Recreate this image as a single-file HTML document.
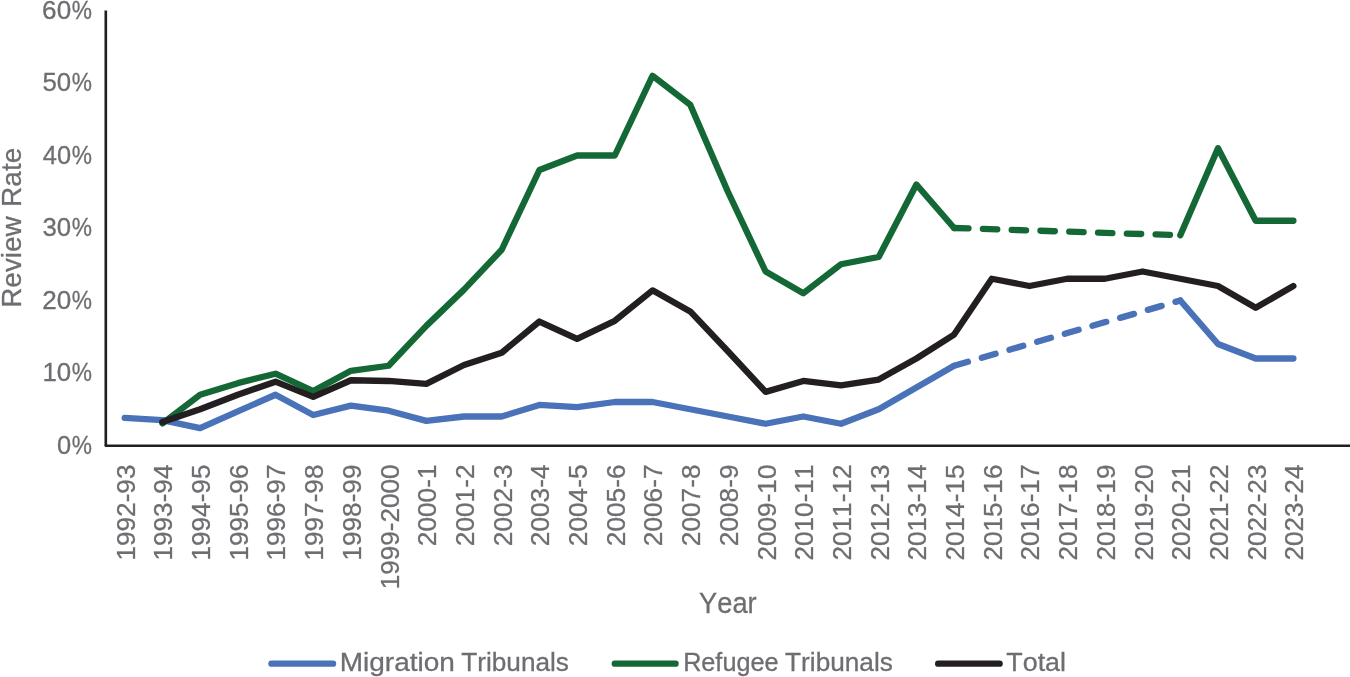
<!DOCTYPE html>
<html lang="en"><head><meta charset="utf-8"><title>Review Rate by Year</title>
<style>
html,body{margin:0;padding:0;background:#fff;}
body{width:1350px;height:677px;overflow:hidden;}
svg{display:block;}
text{font-family:"Liberation Sans",sans-serif;fill:#6d6e71;stroke:#6d6e71;stroke-width:0.3px;font-kerning:none;}
.ln{fill:none;stroke-width:6.3;stroke-linecap:round;stroke-linejoin:round;}
</style></head><body>
<svg width="1350" height="677" viewBox="0 0 1350 677">
<rect width="1350" height="677" fill="#fff"/>
<line x1="105.8" y1="10.4" x2="105.8" y2="445.75" stroke="#231f20" stroke-width="2.65"/>
<line x1="105.7" y1="445.75" x2="1360" y2="445.75" stroke="#231f20" stroke-width="2.4" stroke-linecap="round"/>
<text y="453.85" font-size="26.6"><tspan x="56.95" textLength="14.19" lengthAdjust="spacingAndGlyphs">0</tspan><tspan x="71.69" textLength="20.22" lengthAdjust="spacingAndGlyphs">%</tspan></text>
<text y="381.35" font-size="26.6"><tspan x="42.38" textLength="28.78" lengthAdjust="spacingAndGlyphs">10</tspan><tspan x="71.69" textLength="20.22" lengthAdjust="spacingAndGlyphs">%</tspan></text>
<text y="308.85" font-size="26.6"><tspan x="42.14" textLength="29.03" lengthAdjust="spacingAndGlyphs">20</tspan><tspan x="71.69" textLength="20.22" lengthAdjust="spacingAndGlyphs">%</tspan></text>
<text y="236.35" font-size="26.6"><tspan x="42.47" textLength="28.69" lengthAdjust="spacingAndGlyphs">30</tspan><tspan x="71.69" textLength="20.22" lengthAdjust="spacingAndGlyphs">%</tspan></text>
<text y="163.85" font-size="26.6"><tspan x="42.87" textLength="28.28" lengthAdjust="spacingAndGlyphs">40</tspan><tspan x="71.69" textLength="20.22" lengthAdjust="spacingAndGlyphs">%</tspan></text>
<text y="91.35" font-size="26.6"><tspan x="42.42" textLength="28.74" lengthAdjust="spacingAndGlyphs">50</tspan><tspan x="71.69" textLength="20.22" lengthAdjust="spacingAndGlyphs">%</tspan></text>
<text y="18.85" font-size="26.6"><tspan x="42.12" textLength="29.05" lengthAdjust="spacingAndGlyphs">60</tspan><tspan x="71.69" textLength="20.22" lengthAdjust="spacingAndGlyphs">%</tspan></text>
<text font-size="27.8" transform="translate(21.3,306.0) rotate(-90)" y="0"><tspan x="-1.79" textLength="91.52" lengthAdjust="spacingAndGlyphs">Review</tspan> <tspan x="99.10" textLength="59.14" lengthAdjust="spacingAndGlyphs">Rate</tspan></text>
<text transform="translate(134.60,464.5) rotate(-90)" font-size="26.6" text-anchor="end" textLength="96.1" lengthAdjust="spacingAndGlyphs">1992-93</text>
<text transform="translate(172.30,464.5) rotate(-90)" font-size="26.6" text-anchor="end" textLength="96.1" lengthAdjust="spacingAndGlyphs">1993-94</text>
<text transform="translate(210.00,464.5) rotate(-90)" font-size="26.6" text-anchor="end" textLength="96.1" lengthAdjust="spacingAndGlyphs">1994-95</text>
<text transform="translate(247.70,464.5) rotate(-90)" font-size="26.6" text-anchor="end" textLength="96.1" lengthAdjust="spacingAndGlyphs">1995-96</text>
<text transform="translate(285.40,464.5) rotate(-90)" font-size="26.6" text-anchor="end" textLength="96.1" lengthAdjust="spacingAndGlyphs">1996-97</text>
<text transform="translate(323.10,464.5) rotate(-90)" font-size="26.6" text-anchor="end" textLength="96.1" lengthAdjust="spacingAndGlyphs">1997-98</text>
<text transform="translate(360.80,464.5) rotate(-90)" font-size="26.6" text-anchor="end" textLength="96.1" lengthAdjust="spacingAndGlyphs">1998-99</text>
<text transform="translate(398.50,464.5) rotate(-90)" font-size="26.6" text-anchor="end" textLength="124.8" lengthAdjust="spacingAndGlyphs">1999-2000</text>
<text transform="translate(436.20,464.5) rotate(-90)" font-size="26.6" text-anchor="end" textLength="81.7" lengthAdjust="spacingAndGlyphs">2000-1</text>
<text transform="translate(473.90,464.5) rotate(-90)" font-size="26.6" text-anchor="end" textLength="81.7" lengthAdjust="spacingAndGlyphs">2001-2</text>
<text transform="translate(511.60,464.5) rotate(-90)" font-size="26.6" text-anchor="end" textLength="81.7" lengthAdjust="spacingAndGlyphs">2002-3</text>
<text transform="translate(549.30,464.5) rotate(-90)" font-size="26.6" text-anchor="end" textLength="81.7" lengthAdjust="spacingAndGlyphs">2003-4</text>
<text transform="translate(587.00,464.5) rotate(-90)" font-size="26.6" text-anchor="end" textLength="81.7" lengthAdjust="spacingAndGlyphs">2004-5</text>
<text transform="translate(624.70,464.5) rotate(-90)" font-size="26.6" text-anchor="end" textLength="81.7" lengthAdjust="spacingAndGlyphs">2005-6</text>
<text transform="translate(662.40,464.5) rotate(-90)" font-size="26.6" text-anchor="end" textLength="81.7" lengthAdjust="spacingAndGlyphs">2006-7</text>
<text transform="translate(700.10,464.5) rotate(-90)" font-size="26.6" text-anchor="end" textLength="81.7" lengthAdjust="spacingAndGlyphs">2007-8</text>
<text transform="translate(737.80,464.5) rotate(-90)" font-size="26.6" text-anchor="end" textLength="81.7" lengthAdjust="spacingAndGlyphs">2008-9</text>
<text transform="translate(775.50,464.5) rotate(-90)" font-size="26.6" text-anchor="end" textLength="96.1" lengthAdjust="spacingAndGlyphs">2009-10</text>
<text transform="translate(813.20,464.5) rotate(-90)" font-size="26.6" text-anchor="end" textLength="96.1" lengthAdjust="spacingAndGlyphs">2010-11</text>
<text transform="translate(850.90,464.5) rotate(-90)" font-size="26.6" text-anchor="end" textLength="96.1" lengthAdjust="spacingAndGlyphs">2011-12</text>
<text transform="translate(888.60,464.5) rotate(-90)" font-size="26.6" text-anchor="end" textLength="96.1" lengthAdjust="spacingAndGlyphs">2012-13</text>
<text transform="translate(926.30,464.5) rotate(-90)" font-size="26.6" text-anchor="end" textLength="96.1" lengthAdjust="spacingAndGlyphs">2013-14</text>
<text transform="translate(964.00,464.5) rotate(-90)" font-size="26.6" text-anchor="end" textLength="96.1" lengthAdjust="spacingAndGlyphs">2014-15</text>
<text transform="translate(1001.70,464.5) rotate(-90)" font-size="26.6" text-anchor="end" textLength="96.1" lengthAdjust="spacingAndGlyphs">2015-16</text>
<text transform="translate(1039.40,464.5) rotate(-90)" font-size="26.6" text-anchor="end" textLength="96.1" lengthAdjust="spacingAndGlyphs">2016-17</text>
<text transform="translate(1077.10,464.5) rotate(-90)" font-size="26.6" text-anchor="end" textLength="96.1" lengthAdjust="spacingAndGlyphs">2017-18</text>
<text transform="translate(1114.80,464.5) rotate(-90)" font-size="26.6" text-anchor="end" textLength="96.1" lengthAdjust="spacingAndGlyphs">2018-19</text>
<text transform="translate(1152.50,464.5) rotate(-90)" font-size="26.6" text-anchor="end" textLength="96.1" lengthAdjust="spacingAndGlyphs">2019-20</text>
<text transform="translate(1190.20,464.5) rotate(-90)" font-size="26.6" text-anchor="end" textLength="96.1" lengthAdjust="spacingAndGlyphs">2020-21</text>
<text transform="translate(1227.90,464.5) rotate(-90)" font-size="26.6" text-anchor="end" textLength="96.1" lengthAdjust="spacingAndGlyphs">2021-22</text>
<text transform="translate(1265.60,464.5) rotate(-90)" font-size="26.6" text-anchor="end" textLength="96.1" lengthAdjust="spacingAndGlyphs">2022-23</text>
<text transform="translate(1303.30,464.5) rotate(-90)" font-size="26.6" text-anchor="end" textLength="96.1" lengthAdjust="spacingAndGlyphs">2023-24</text>
<text font-size="29.2" y="613.1"><tspan x="699.10" textLength="57.55" lengthAdjust="spacingAndGlyphs">Year</tspan></text>
<polyline class="ln" stroke="#4972b9" points="124.70,417.95 162.40,420.12 200.10,428.10 237.80,411.43 275.50,394.75 313.20,415.05 350.90,405.62 388.60,410.70 426.30,420.85 464.00,416.50 501.70,416.50 539.40,404.90 577.10,407.07 614.80,402.00 652.50,402.00 690.20,409.25 727.90,416.50 765.60,423.75 803.30,416.50 841.00,423.75 878.70,409.25 916.40,387.50 954.10,365.75"/>
<polyline class="ln" stroke="#4972b9" points="1180.30,300.50 1218.00,344.00 1255.70,358.50 1293.40,358.50"/>
<line class="ln" stroke="#4972b9" stroke-dasharray="14.4 14.4" x1="954.10" y1="365.75" x2="1180.30" y2="300.50"/>
<polyline class="ln" stroke="#136835" points="162.40,423.39 200.10,394.75 237.80,383.15 275.50,373.73 313.20,391.12 350.90,370.82 388.60,365.75 426.30,325.88 464.00,289.62 501.70,249.75 539.40,170.00 577.10,155.50 614.80,155.50 652.50,75.75 690.20,104.75 727.90,191.75 765.60,271.50 803.30,293.25 841.00,264.25 878.70,257.00 916.40,184.50 954.10,228.00"/>
<polyline class="ln" stroke="#136835" points="1180.30,235.25 1218.00,148.25 1255.70,220.75 1293.40,220.75"/>
<line class="ln" stroke="#136835" stroke-dasharray="14.4 14.4" x1="954.10" y1="228.00" x2="1180.30" y2="235.25"/>
<polyline class="ln" stroke="#231f20" points="162.40,421.94 200.10,409.25 237.80,394.75 275.50,381.70 313.20,396.93 350.90,380.25 388.60,380.98 426.30,383.88 464.00,365.02 501.70,352.70 539.40,321.52 577.10,338.93 614.80,320.80 652.50,290.35 690.20,311.38 727.90,351.25 765.60,391.85 803.30,380.98 841.00,385.32 878.70,379.52 916.40,358.50 954.10,334.57 991.80,278.75 1029.50,286.00 1067.20,278.75 1104.90,278.75 1142.60,271.50 1180.30,278.75 1218.00,286.00 1255.70,307.75 1293.40,286.00"/>
<line class="ln" stroke="#4972b9" stroke-width="6.5" x1="271.45" y1="663.65" x2="333.05" y2="663.65"/>
<text font-size="25.8" y="671.3"><tspan x="339.70" textLength="115.22" lengthAdjust="spacingAndGlyphs">Migration</tspan> <tspan x="461.31" textLength="107.63" lengthAdjust="spacingAndGlyphs">Tribunals</tspan></text>
<line class="ln" stroke="#136835" stroke-width="6.5" x1="614.75" y1="663.65" x2="675.55" y2="663.65"/>
<text font-size="25.8" y="671.3"><tspan x="683.13" textLength="95.39" lengthAdjust="spacingAndGlyphs">Refugee</tspan> <tspan x="785.11" textLength="107.73" lengthAdjust="spacingAndGlyphs">Tribunals</tspan></text>
<line class="ln" stroke="#231f20" stroke-width="6.5" x1="938.15" y1="663.65" x2="999.65" y2="663.65"/>
<text font-size="25.8" y="671.3"><tspan x="1006.30" textLength="59.70" lengthAdjust="spacingAndGlyphs">Total</tspan></text>
</svg>
</body></html>
